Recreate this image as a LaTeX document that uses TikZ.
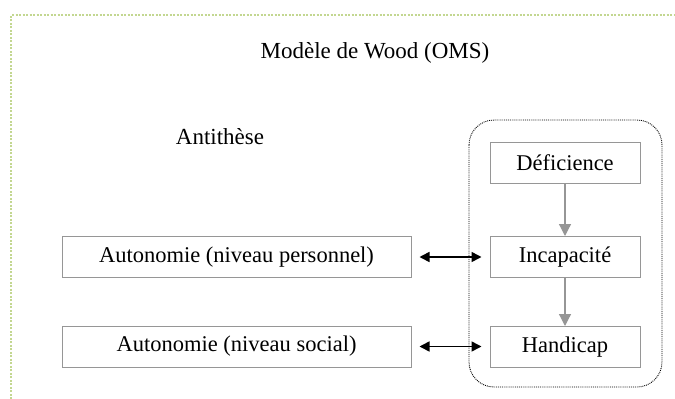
\documentclass[tikz,border=0pt]{standalone}
\usepackage{fontspec}
\setmainfont{Liberation Serif}
\usetikzlibrary{arrows.meta}
\definecolor{framegreen}{RGB}{195,215,145}
\definecolor{boxgray}{RGB}{150,150,150}
\tikzset{
  wbox/.style={draw=boxgray, line width=1pt, minimum height=41pt, inner sep=0pt, font=\fontsize{22.5}{27}\selectfont},
  grayarr/.style={draw=boxgray, line width=1.2pt, -{Triangle[length=12pt,width=12pt]}},
  linkarr/.style={line width=1.6pt, {Triangle[length=10pt,width=10pt]}-{Triangle[length=10pt,width=10pt]}, shorten <=8pt, shorten >=8pt}
}
\begin{document}
\begin{tikzpicture}[x=1pt,y=1pt]
\useasboundingbox (0,0) rectangle (675,-399);
\draw[framegreen, dash pattern=on 2pt off 1.5pt, line width=1.5pt] (11,-399) -- (11,-15) -- (676,-15);
\node[font=\fontsize{23}{27}\selectfont] (title) at (375,-53) {Modèle de Wood (OMS)};
\node[font=\fontsize{23}{27}\selectfont] (anti) at (220,-137) {Antithèse};
\draw[densely dotted, line width=0.9pt, rounded corners=25pt] (469,-120) rectangle (662,-387);
\node[wbox, minimum width=150pt] (defi) at (565,-162.5) {Déficience};
\node[wbox, minimum width=150pt] (inca) at (565,-257) {Incapacité};
\node[wbox, minimum width=150pt] (hand) at (565,-347) {Handicap};
\node[wbox, minimum width=349pt] (pers) at (236.5,-257) {Autonomie (niveau personnel)};
\node[wbox, minimum width=349pt] (soci) at (236.5,-346.5) {Autonomie (niveau social)};
\draw[grayarr] (defi) -- (inca);
\draw[grayarr] (inca) -- (hand);
\draw[linkarr] (pers) -- (pers -| inca.west);
\draw[linkarr] (soci) -- (soci -| hand.west);
\end{tikzpicture}
\end{document}
